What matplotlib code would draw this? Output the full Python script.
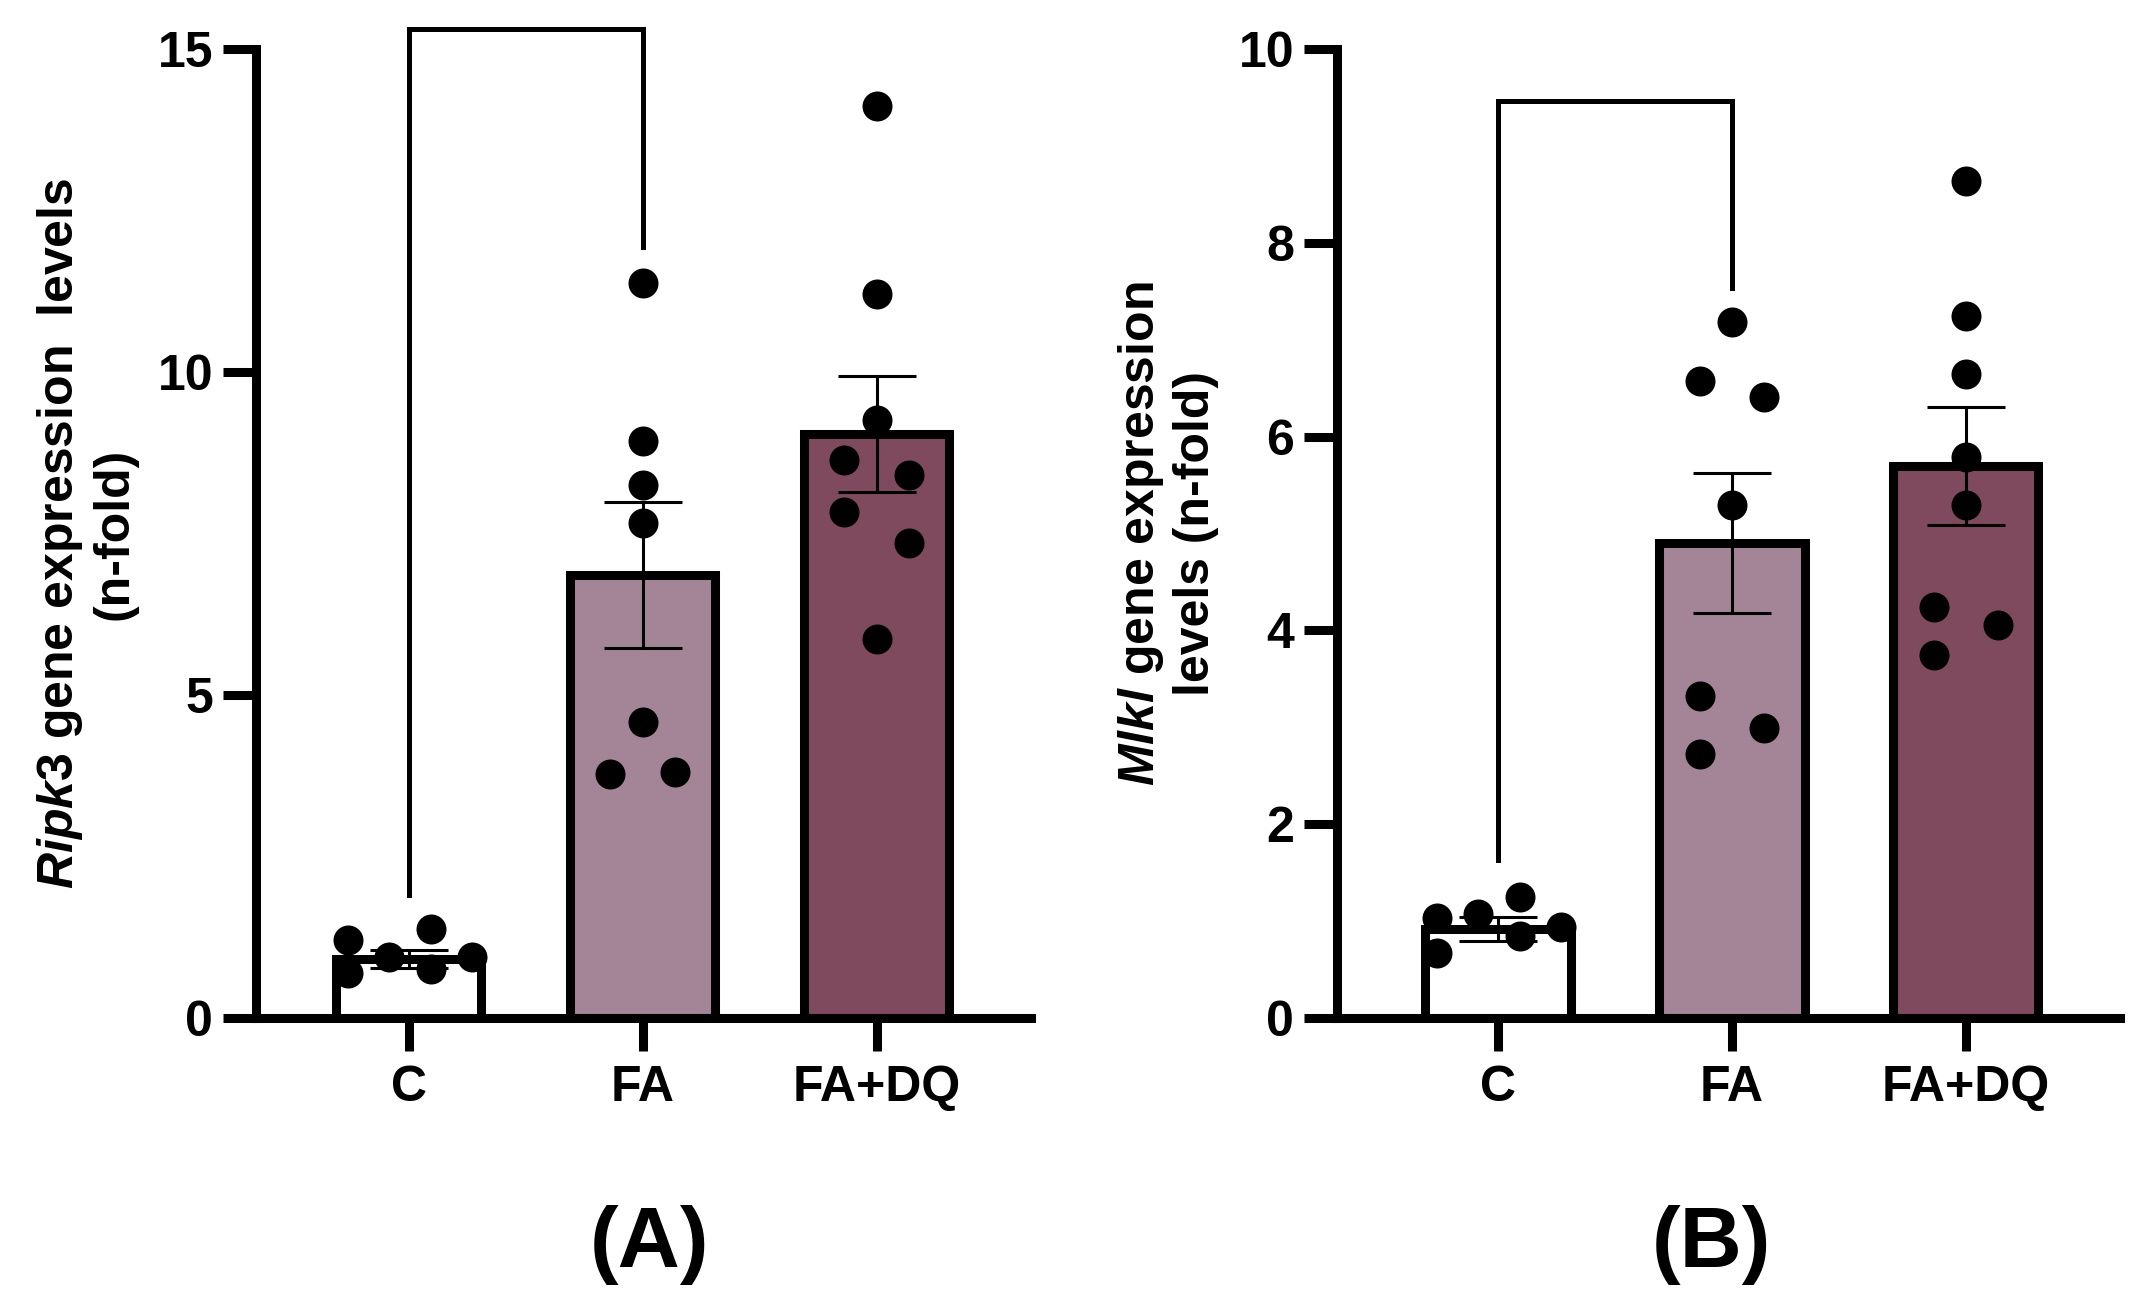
import matplotlib
matplotlib.use("Agg")
import matplotlib.pyplot as plt

plt.rcParams['font.family'] = ['Liberation Sans', 'DejaVu Sans']
plt.rcParams['font.weight'] = 'bold'
plt.rcParams['mathtext.fontset'] = 'custom'
plt.rcParams['mathtext.it'] = 'Liberation Sans:italic:bold'
plt.rcParams['mathtext.rm'] = 'Liberation Sans:bold'

groups = ['C', 'FA', 'FA+DQ']
bar_colors = ['white', '#A48598', '#7F4A5E']

# panel A - Ripk3
ripk3_c = [1.21, 0.70, 0.94, 1.38, 0.76, 0.94]
ripk3_fa = [11.37, 8.93, 8.25, 7.67, 4.58, 3.78, 3.81]
ripk3_fadq = [14.11, 11.21, 9.25, 8.63, 8.41, 7.83, 7.35, 5.87]
ripk3_mean = [0.92, 6.85, 9.04]
ripk3_sem = [0.14, 1.13, 0.90]
ripk3_bracket = [1.91, 15.31, 11.93]

# panel B - Mlkl
mlkl_c = [1.03, 0.67, 1.07, 1.25, 0.85, 0.94]
mlkl_fa = [7.18, 6.57, 6.41, 5.29, 3.32, 2.99, 2.72]
mlkl_fadq = [8.64, 7.24, 6.65, 5.79, 5.29, 4.24, 4.06, 3.75]
mlkl_mean = [0.92, 4.90, 5.70]
mlkl_sem = [0.12, 0.72, 0.61]
mlkl_bracket = [1.63, 9.46, 7.53]

# horizontal scatter of the dots (layout only)
j = 0.138
c_dx = [-0.26, -0.26, -0.085, 0.095, 0.095, 0.27]
ripk3_fa_dx = [0, 0, 0, 0, 0, -j, j]
ripk3_fadq_dx = [0, 0, 0, -j, j, -j, j, 0]
mlkl_fa_dx = [0, -j, j, 0, -j, j, -j]
mlkl_fadq_dx = [0, 0, 0, 0, 0, -j, j, -j]

LW = 6.5

fig = plt.figure(figsize=(21.42, 13.02), dpi=100)
axA = fig.add_axes([0.1195, 0.2181, 0.3618, 0.7443])
axB = fig.add_axes([0.6242, 0.2181, 0.3657, 0.7443])


def panel(ax, pts, dxs, mean, sem, bracket, ymax, yticks, ylabel, xleft):
    x = [0, 1, 2]
    ax.bar(x, mean, width=0.62, color=bar_colors, edgecolor='black',
           linewidth=LW, zorder=2)
    ax.errorbar(x, mean, yerr=sem, fmt='none', ecolor='black', elinewidth=2.2,
                capsize=28, capthick=2.2, zorder=3)
    for i, (vals, dx) in enumerate(zip(pts, dxs)):
        ax.plot([i + d for d in dx], vals, 'o', color='black', markersize=21.6,
                markeredgewidth=0, zorder=4, clip_on=False)
    ax.plot([0, 0, 1, 1], [bracket[0], bracket[1], bracket[1], bracket[2]],
            color='black', lw=3.6, clip_on=False, solid_joinstyle='miter', zorder=3)
    ax.set_xlim(xleft, 2.66)
    ax.set_ylim(0, ymax)
    ax.set_yticks(yticks)
    ax.set_xticks(x)
    ax.set_xticklabels(groups)
    for s in ['top', 'right']:
        ax.spines[s].set_visible(False)
    for s in ['left', 'bottom']:
        ax.spines[s].set_linewidth(LW)
    ax.tick_params(axis='both', width=LW, length=24, labelsize=36)
    ax.tick_params(axis='x', pad=10)
    ax.tick_params(axis='y', pad=7)
    ax.set_ylabel(ylabel, fontsize=36, fontweight='bold', labelpad=14,
                  linespacing=1.2)


panel(axA, [ripk3_c, ripk3_fa, ripk3_fadq], [c_dx, ripk3_fa_dx, ripk3_fadq_dx],
      ripk3_mean, ripk3_sem, ripk3_bracket, 15, [0, 5, 10, 15],
      '$\\mathit{Ripk3}$ gene expression  levels\n(n-fold)', -0.654)
panel(axB, [mlkl_c, mlkl_fa, mlkl_fadq], [c_dx, mlkl_fa_dx, mlkl_fadq_dx],
      mlkl_mean, mlkl_sem, mlkl_bracket, 10, [0, 2, 4, 6, 8, 10],
      '$\\mathit{Mlkl}$ gene expression\nlevels (n-fold)', -0.688)

fig.text(0.303, 0.044, '(A)', fontsize=62, fontweight='bold', ha='center', va='center')
fig.text(0.799, 0.044, '(B)', fontsize=62, fontweight='bold', ha='center', va='center')

fig.savefig('out.png', dpi=100)
